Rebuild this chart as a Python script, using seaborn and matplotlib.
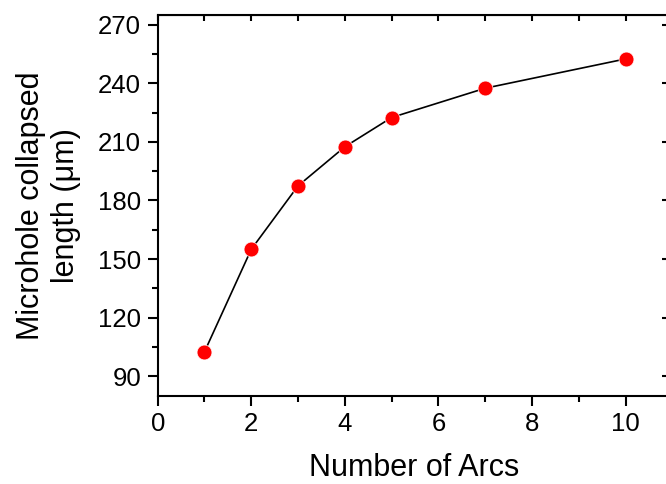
import matplotlib
matplotlib.use("Agg")
import matplotlib.pyplot as plt
import seaborn as sns
import pandas as pd
from matplotlib.ticker import MultipleLocator

arcs = [1, 2, 3, 4, 5, 7, 10]
length_um = [102.5, 155, 187.5, 207.5, 222.5, 237.5, 252.5]

df = pd.DataFrame({"arcs": arcs, "length": length_um})

sns.set_style("white")
plt.rcParams['font.family'] = ['Liberation Sans', 'DejaVu Sans']
plt.rcParams['text.color'] = 'black'
plt.rcParams['axes.labelcolor'] = 'black'
plt.rcParams['xtick.color'] = 'black'
plt.rcParams['ytick.color'] = 'black'

fig = plt.figure(figsize=(6.66, 4.84), dpi=100)
ax = fig.add_axes([0.2368, 0.1824, 0.7692, 0.7866])

sns.lineplot(data=df, x="arcs", y="length", ax=ax, color="black", linewidth=1.2, zorder=2)
sns.scatterplot(data=df, x="arcs", y="length", ax=ax, color="#ff0000", s=115,
                edgecolor="white", linewidth=0.5, zorder=3)

ax.set_xlim(0, 10.95)
ax.set_ylim(80, 275)
ax.xaxis.set_major_locator(MultipleLocator(2))
ax.xaxis.set_minor_locator(MultipleLocator(1))
ax.yaxis.set_major_locator(MultipleLocator(30))
ax.yaxis.set_minor_locator(MultipleLocator(15))
ax.set_yticks([90, 120, 150, 180, 210, 240, 270])

for s in ax.spines.values():
    s.set_linewidth(1.5)
    s.set_color("black")
ax.spines["right"].set_visible(False)

ax.tick_params(axis="both", which="major", direction="out", length=7, width=1.5,
               labelsize=18.5, colors="black", pad=5)
ax.tick_params(axis="both", which="minor", direction="out", length=4, width=1.5)
ax.tick_params(which="both", bottom=True, left=True)

# inward ticks on top and right
secx = ax.secondary_xaxis("top")
secx.xaxis.set_major_locator(MultipleLocator(2))
secx.xaxis.set_minor_locator(MultipleLocator(1))
secx.tick_params(which="both", direction="in", length=4.5, width=1.5, labeltop=False)
secy = ax.secondary_yaxis("right")
secy.set_yticks([90, 120, 150, 180, 210, 240, 270])
secy.tick_params(which="major", direction="in", length=5.5, width=1.5, labelright=False)
secy.tick_params(which="minor", length=0)
for s in secy.spines.values():
    s.set_visible(False)

ax.set_xlabel("Number of Arcs", fontsize=22, labelpad=12, color="black")
ax.set_ylabel("Microhole collapsed\nlength (\u03bcm)", fontsize=22,
              linespacing=1.22, color="black")
ax.yaxis.set_label_coords(-0.1497, 0.5)

fig.savefig("out.png", dpi=100)
